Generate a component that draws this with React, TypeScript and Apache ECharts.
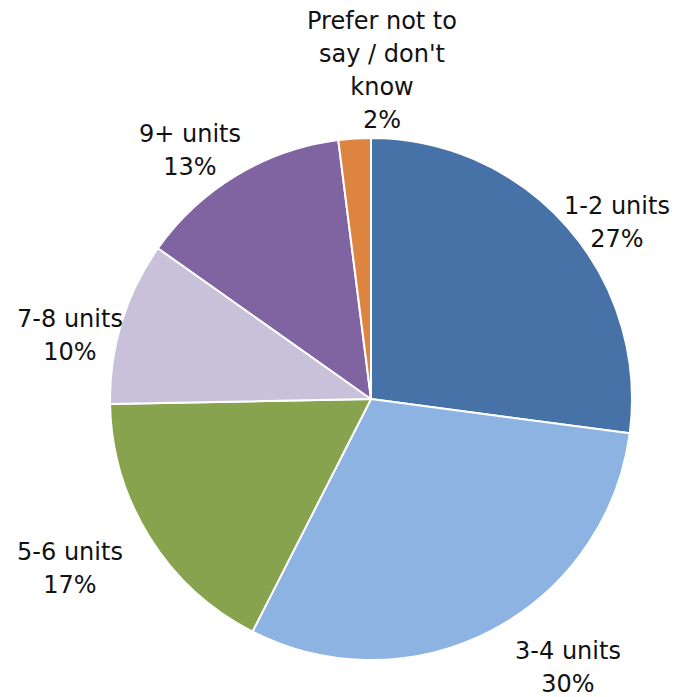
import React, { useEffect, useRef } from "react";
import * as echarts from "echarts";

const categories = [
  "1-2 units",
  "3-4 units",
  "5-6 units",
  "7-8 units",
  "9+ units",
  "Prefer not to\nsay / don't\nknow",
];
const values = [27.1, 30.4, 17.2, 10.1, 13.2, 2.0];
const colors = ["#4672A8", "#8DB3E2", "#87A34E", "#C9C0DA", "#8064A2", "#DD8540"];

// label centre offsets relative to pie centre (layout, not data)
const CENTER = [371, 399];
const RADIUS = 261;
const LABEL_OFFSETS = [
  [246, -177],
  [197, 268],
  [-301, 169],
  [-301, -64],
  [-181, -249],
  [11, -329],
];

export default function App() {
  const ref = useRef<HTMLDivElement>(null);
  useEffect(() => {
    document.body.style.margin = "0";
    const chart = echarts.init(ref.current!, null, { renderer: "svg" });
    chart.setOption({
      animation: false,
      backgroundColor: "#ffffff",
      series: [
        {
          type: "pie",
          center: CENTER,
          radius: RADIUS,
          startAngle: 90,
          clockwise: true,
          avoidLabelOverlap: false,
          itemStyle: { borderColor: "#ffffff", borderWidth: 2 },
          label: {
            show: true,
            position: "outside",
            fontFamily: "DejaVu Sans",
            fontSize: 24,
            lineHeight: 33,
            color: "#111111",
            align: "center",
            formatter: (p: any) => `${p.name}\n${Math.round(p.percent)}%`,
          },
          labelLine: { show: false },
          labelLayout: (params: any) => {
            const o = LABEL_OFFSETS[params.dataIndex];
            return {
              x: CENTER[0] + o[0],
              y: CENTER[1] + o[1],
              align: "center",
              verticalAlign: "middle",
            };
          },
          emphasis: { disabled: true },
          data: categories.map((c, i) => ({
            name: c,
            value: values[i],
            itemStyle: { color: colors[i] },
          })),
        },
      ],
    });
    return () => chart.dispose();
  }, []);
  return <div ref={ref} style={{ width: 677, height: 697 }} />;
}
